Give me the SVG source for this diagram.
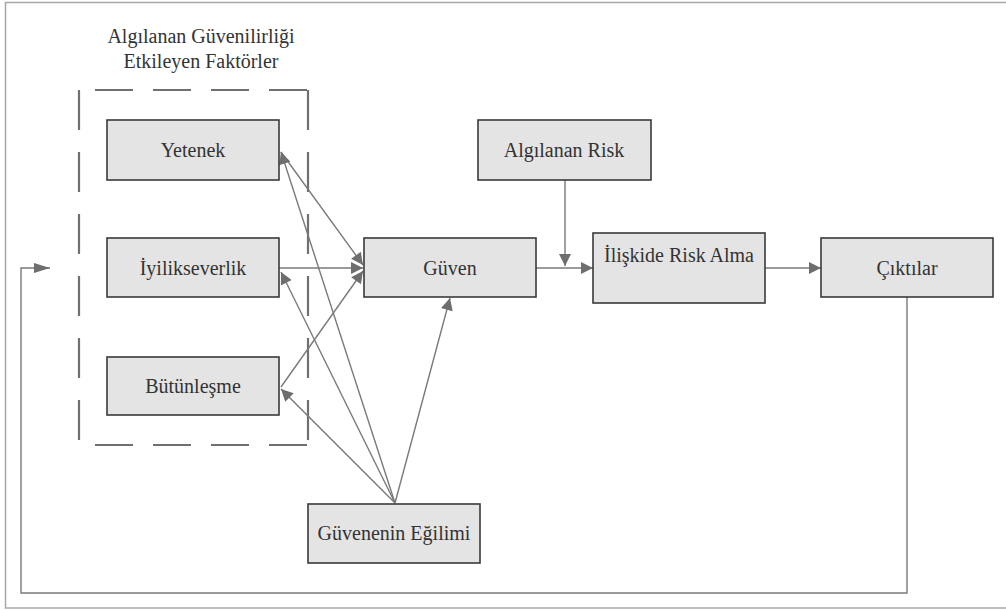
<svg xmlns="http://www.w3.org/2000/svg" width="1006" height="610" viewBox="0 0 1006 610">
  <style>
    .box { fill: #e4e4e4; stroke: #3a3a3a; stroke-width: 1.6; }
    .lbl { font-family: "Liberation Serif", "Times New Roman", serif; font-size: 20px; fill: #333; text-anchor: middle; }
    .con { fill: none; stroke: #7a7a7a; stroke-width: 1.4; }
    .dash { fill: none; stroke: #707070; stroke-width: 2.2; }
  </style>
  <defs>
    <marker id="arr" viewBox="0 0 10 10" refX="10" refY="5" markerWidth="13" markerHeight="12" markerUnits="userSpaceOnUse" orient="auto">
      <path d="M0,0 L10,5 L0,10 Z" fill="#6e6e6e"/>
    </marker>
    <marker id="arrL" viewBox="0 0 16 10" refX="16" refY="5" markerWidth="16" markerHeight="10" markerUnits="userSpaceOnUse" orient="auto">
      <path d="M0,0 L16,5 L0,10 Z" fill="#6e6e6e"/>
    </marker>
  </defs>

  <rect width="1006" height="610" fill="#ffffff"/>
  <!-- outer frame -->
  <path d="M1006,2.5 H5.5 V608 H1006" fill="none" stroke="#a8a8a8" stroke-width="1.5"/>

  <!-- factor group title and dashed boundary -->
  <g id="factors">
    <text class="lbl" x="201" y="43">Algılanan Güvenilirliği</text>
    <text class="lbl" x="201" y="68">Etkileyen Faktörler</text>
    <line class="dash" x1="95" y1="90" x2="308" y2="90" stroke-dasharray="38 20"/>
    <line class="dash" x1="95" y1="445" x2="308" y2="445" stroke-dasharray="38 20"/>
    <line class="dash" x1="79" y1="90" x2="79" y2="445" stroke-dasharray="40 22"/>
    <line class="dash" x1="308" y1="90" x2="308" y2="445" stroke-dasharray="40 22"/>
  </g>

  <!-- connectors -->
  <g id="connectors">
    <line class="con" x1="281" y1="152" x2="363" y2="265" marker-end="url(#arr)"/>
    <line class="con" x1="279" y1="268" x2="363" y2="268" marker-end="url(#arr)"/>
    <line class="con" x1="281" y1="387" x2="363" y2="271" marker-end="url(#arr)"/>
    <line class="con" x1="395" y1="503" x2="281" y2="152" marker-end="url(#arr)"/>
    <line class="con" x1="395" y1="503" x2="281" y2="272" marker-end="url(#arr)"/>
    <line class="con" x1="395" y1="503" x2="281" y2="389" marker-end="url(#arr)"/>
    <line class="con" x1="395" y1="503" x2="450" y2="298" marker-end="url(#arr)"/>
    <line class="con" x1="536" y1="268" x2="593" y2="268" marker-end="url(#arr)"/>
    <line class="con" x1="565" y1="180" x2="565" y2="266" marker-end="url(#arr)"/>
    <line class="con" x1="765" y1="268" x2="821" y2="268" marker-end="url(#arr)"/>
    <polyline class="con" points="907,297 907,593 21,593 21,268 50,268" marker-end="url(#arrL)"/>
  </g>

  <g id="yetenek">
    <rect class="box" x="107" y="120" width="172" height="60"/>
    <text class="lbl" x="193" y="157">Yetenek</text>
  </g>
  <g id="iyilikseverlik">
    <rect class="box" x="107" y="238" width="172" height="59"/>
    <text class="lbl" x="193" y="275">İyilikseverlik</text>
  </g>
  <g id="butunlesme">
    <rect class="box" x="107" y="357" width="172" height="58"/>
    <text class="lbl" x="193" y="393">Bütünleşme</text>
  </g>
  <g id="guven">
    <rect class="box" x="364" y="238" width="172" height="59"/>
    <text class="lbl" x="450" y="275">Güven</text>
  </g>
  <g id="algilanan-risk">
    <rect class="box" x="478" y="120" width="173" height="60"/>
    <text class="lbl" x="564" y="157">Algılanan Risk</text>
  </g>
  <g id="iliskide-risk-alma">
    <rect class="box" x="593" y="233" width="172" height="70"/>
    <text class="lbl" x="679" y="262">İlişkide Risk Alma</text>
  </g>
  <g id="ciktilar">
    <rect class="box" x="821" y="238" width="172" height="59"/>
    <text class="lbl" x="907" y="275">Çıktılar</text>
  </g>
  <g id="guvenenin-egilimi">
    <rect class="box" x="308" y="504" width="172" height="59"/>
    <text class="lbl" x="394" y="540">Güvenenin Eğilimi</text>
  </g>
</svg>
